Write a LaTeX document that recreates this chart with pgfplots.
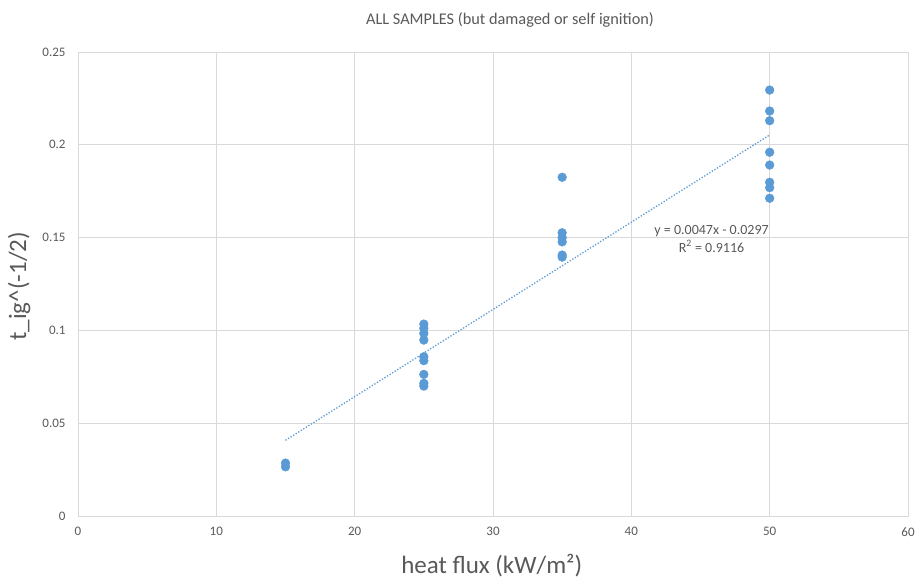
\documentclass[border=0pt]{standalone}
\usepackage{fontspec}
\setmainfont{Carlito}
\usepackage{pgfplots}
\pgfplotsset{compat=1.18}
\definecolor{xlblue}{HTML}{5B9BD5}
\definecolor{xltext}{HTML}{595959}
\definecolor{xlgrid}{HTML}{D9D9D9}
\begin{document}
\begin{tikzpicture}
\path[use as bounding box] (-78pt,-63pt) rectangle (840pt,516pt);
\begin{axis}[
  scale only axis,
  width=830pt, height=464pt,
  xmin=0, xmax=60, ymin=0, ymax=0.25,
  xtick={0,10,...,60},
  ytick={0,0.05,0.1,0.15,0.2,0.25},
  grid=major, grid style={xlgrid, line width=0.8pt},
  axis line style={xlgrid, line width=0.8pt},
  major tick length=0pt,
  tick label style={font=\fontsize{13}{15}\selectfont, text=xltext},
  /pgf/number format/assume math mode=true,
  yticklabel style={/pgf/number format/fixed, /pgf/number format/precision=2, xshift=-9pt},
  xticklabel style={yshift=-8pt},
  clip=false,
]
\addplot[only marks, mark=*, mark size=4.4pt, mark options={draw=xlblue, fill=xlblue}] coordinates {
  (15,0.0285)(15,0.0265)
  (25,0.1034)(25,0.1011)(25,0.0984)(25,0.0948)(25,0.0858)(25,0.0837)(25,0.0763)(25,0.0715)(25,0.0700)
  (35,0.1825)(35,0.1526)(35,0.1500)(35,0.1477)(35,0.1406)(35,0.1395)
  (50,0.2295)(50,0.2182)(50,0.2130)(50,0.1960)(50,0.1891)(50,0.1798)(50,0.1769)(50,0.1712)
};
% linear trendline y = 0.0047x - 0.0297
\addplot[xlblue, line width=1.3pt, dash pattern=on 1.3pt off 1.7pt] coordinates {(15,0.0408)(50,0.2053)};
\node[font=\fontsize{14}{18}\selectfont, text=xltext, align=center] at (axis cs:45.8,0.1495) {y = 0.0047x - 0.0297\\R\textsuperscript{2} = 0.9116};
\node[font=\fontsize{16.3}{20}\selectfont, text=xltext] at (axis description cs:0.5205,1.069) {ALL SAMPLES (but damaged or self ignition)};
\node[font=\fontsize{25}{28}\selectfont, text=xltext] at (axis description cs:0.4985,-0.106) {heat flux (kW/m²)};
\node[font=\fontsize{25}{28}\selectfont, text=xltext, rotate=90] at (axis description cs:-0.071,0.495) {t\_ig\textasciicircum(-1/2)};
\end{axis}
\end{tikzpicture}
\end{document}
